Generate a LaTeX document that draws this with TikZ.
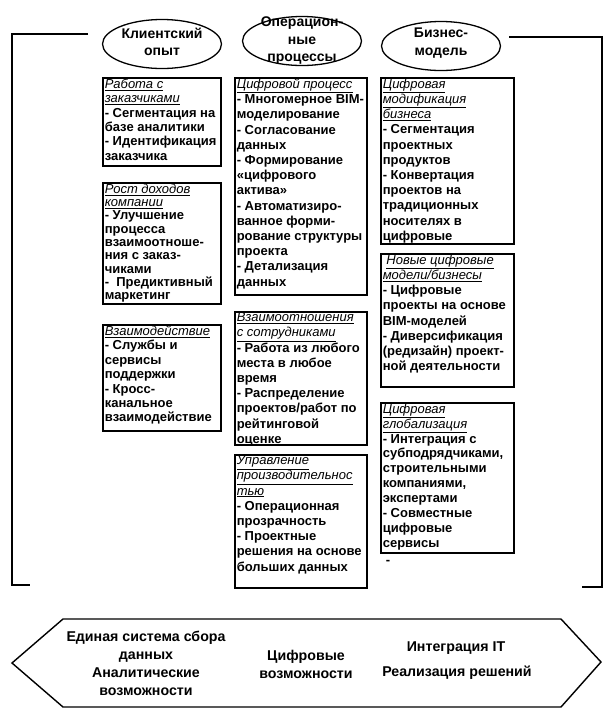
\documentclass[tikz,border=0pt]{standalone}
\usepackage{fontspec}
\setmainfont{Liberation Sans}
\usetikzlibrary{shapes.geometric,positioning}

\newcommand{\hd}[1]{\underline{\textit{\mdseries #1}}}

\begin{document}
\begin{tikzpicture}[x=1pt,y=-1pt,line join=miter,
  oval/.style={draw,ellipse,line width=1.3pt,minimum width=119pt,minimum height=49pt,inner sep=0pt},
  ttl/.style={font=\bfseries\fontsize{14}{17.5}\selectfont,align=center,inner sep=0pt},
  card/.style={draw,anchor=north west,line width=1.6pt,inner xsep=2pt,inner ysep=1pt,
    font=\bfseries\fontsize{13}{15.2}\selectfont},
  capt/.style={font=\bfseries\fontsize{14.2}{18}\selectfont,align=center,inner sep=0pt}]
  \useasboundingbox (0,0) rectangle (608,710);

  % three headers
  \node[oval] (klient) at (162,44) {};
  \node[oval] (oper) at (302,41) {};
  \node[oval] (biz) at (441,46) {};
  \node[ttl] at (162,42) {Клиентский\\опыт};
  \node[ttl] at (oper) {Операцион-\\ные\\процессы};
  \node[ttl] at (441,43) {Бизнес-\\модель};

  % bracket
  \coordinate (lt) at (88,34);
  \coordinate (lb) at (30,585);
  \coordinate (rt) at (509,37);
  \coordinate (rb) at (582,587);
  \draw[line width=1.3pt] (lt) -- (12,34) -- (12,585) -- (lb);
  \draw[line width=1.3pt] (rt) -- (602,37) -- (602,587) -- (rb);

  % column 1
  \node[card] (kl1) at (102,77) {\parbox[t][86pt][t]{114pt}{\fontsize{13}{14.4}\selectfont
    \hd{Работа с}\\ \hd{заказчиками}\\- Сегментация на\\базе аналитики\\- Идентификация\\заказчика}};
  \node[card] (kl2) at (102,182) {\parbox[t][119pt][t]{114pt}{\fontsize{13}{13.3}\selectfont
    \hd{Рост доходов}\\ \hd{компании}\\- Улучшение\\процесса\\взаимоотноше-\\ния с заказ-\\чиками\\-~ Предиктивный\\маркетинг}};
  \node[card] (kl3) at (102,324) {\parbox[t][104pt][t]{114pt}{\fontsize{13}{14.4}\selectfont
    \hd{Взаимодействие}\\- Службы и\\сервисы\\поддержки\\- Кросс-\\канальное\\взаимодействие}};

  % column 2
  \node[card] (op1) at (234,77) {\parbox[t][215pt][t]{128pt}{
    \hd{Цифровой процесс}\\- Многомерное BIM-\\моделирование\\- Согласование\\данных\\- Формирование\\«цифрового\\актива»\\- Автоматизиро-\\ванное форми-\\рование структуры\\проекта\\- Детализация\\данных}};
  \node[card] (op2) at (234,311) {\parbox[t][131pt][t]{128pt}{
    \hd{Взаимоотношения}\\ \hd{с сотрудниками}\\- Работа из любого\\места в любое\\время\\- Распределение\\проектов/работ по\\рейтинговой\\оценке}};
  \node[card] (op3) at (234,454) {\parbox[t][131pt][t]{128pt}{
    \hd{Управление}\\ \hd{производительнос}\\ \hd{тью}\\- Операционная\\прозрачность\\- Проектные\\решения на основе\\больших данных}};

  % column 3
  \node[card] (bz1) at (380,77) {\parbox[t][164pt][t]{129pt}{
    \hd{Цифровая}\\ \hd{модификация}\\ \hd{бизнеса}\\- Сегментация\\проектных\\продуктов\\- Конвертация\\проектов на\\традиционных\\носителях в\\цифровые}};
  \node[card] (bz2) at (380,253) {\parbox[t][131pt][t]{129pt}{
    ~\hd{Новые цифровые}\\ \hd{модели/бизнесы}\\- Цифровые\\проекты на основе\\BIM-моделей\\~- Диверсификация\\(редизайн) проект-\\ной деятельности}};
  \node[card] (bz3) at (380,402) {\parbox[t][148pt][t]{129pt}{\fontsize{13}{14.9}\selectfont
    \hd{Цифровая}\\ \hd{глобализация}\\- Интеграция с\\субподрядчиками,\\строительными\\компаниями,\\экспертами\\- Совместные\\цифровые\\сервисы}};
  \node[font=\bfseries\fontsize{13}{15}\selectfont,inner sep=0pt] (dash) at (388,562) {-};

  % bottom hexagon
  \draw[line width=1.4pt] (12,663) -- (63,619) -- (561,619) -- (601,662) -- (561,707) -- (63,707) -- cycle;
  \node[capt] (sbor) at (146,663) {Единая система сбора\\данных\\Аналитические\\возможности};
  \node[capt] (cifr) at (306,664) {Цифровые\\возможности};
  \node[capt] (integ) at (456,648) {Интеграция IT};
  \node[capt] (realiz) at (457,673) {Реализация решений};
\end{tikzpicture}
\end{document}
